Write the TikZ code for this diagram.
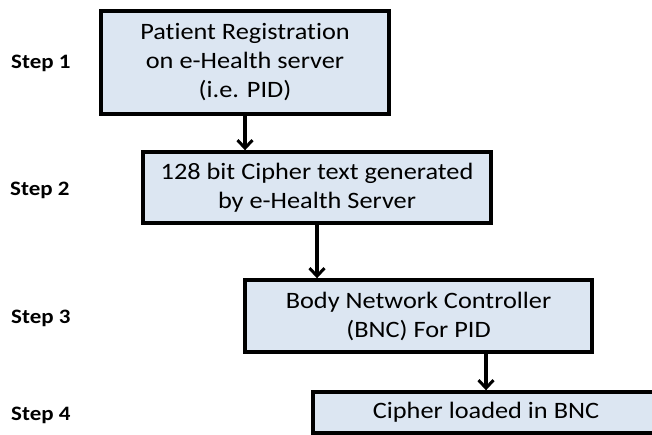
\documentclass[tikz,border=0pt]{standalone}
\usepackage{fontspec}
\setmainfont{Carlito}[FakeStretch=1.12, Ligatures=NoCommon]
\usetikzlibrary{positioning,arrows.meta,shadows}
\definecolor{boxblue}{RGB}{220,230,242}
\tikzstyle{sbox}=[rectangle, draw=black, fill=boxblue, line width=3.4pt,
                  inner sep=0pt, align=center,
                  font=\fontsize{23.5}{29}\selectfont,
                  drop shadow={opacity=0.35, shadow xshift=1.5pt, shadow yshift=-1.5pt}]
\tikzstyle{slabel}=[anchor=west, inner sep=0pt, font=\fontsize{20.5}{24}\selectfont\bfseries]
\tikzstyle{sline}=[line width=3.2pt, -{Straight Barb[length=8pt, width=15pt, line width=3pt]}]

\begin{document}
\begin{tikzpicture}[x=1pt, y=1pt]
\useasboundingbox (0,0) rectangle (652,434);

\node (PREG) [sbox, minimum width=288pt, minimum height=103pt] at (245,371.5)
 {Patient Registration\\on e-Health server\\(i.e. PID)};
\node (CTXT) [sbox, minimum width=348pt, minimum height=71pt] at (317,246.5)
 {128 bit Cipher text generated\\by e-Health Server};
\node (BNC) [sbox, minimum width=347pt, minimum height=72pt] at (418.5,118)
 {Body Network Controller\\(BNC) For PID};
\node (LOAD) [sbox, minimum width=346pt, minimum height=41pt] at (486,21.5)
 {Cipher loaded in BNC};

\node (STA) [slabel] at (11,371) {Step 1};
\node (STB) [slabel] at (10,244) {Step 2};
\node (STC) [slabel] at (11,116) {Step 3};
\node (STD) [slabel] at (11,19) {Step 4};

 \draw[sline] (PREG.south) -- (PREG.south |- CTXT.north);
 \draw[sline] (CTXT.south) -- (CTXT.south |- BNC.north);
 \draw[sline] (LOAD.north |- BNC.south) -- (LOAD.north);

\end{tikzpicture}
\end{document}
